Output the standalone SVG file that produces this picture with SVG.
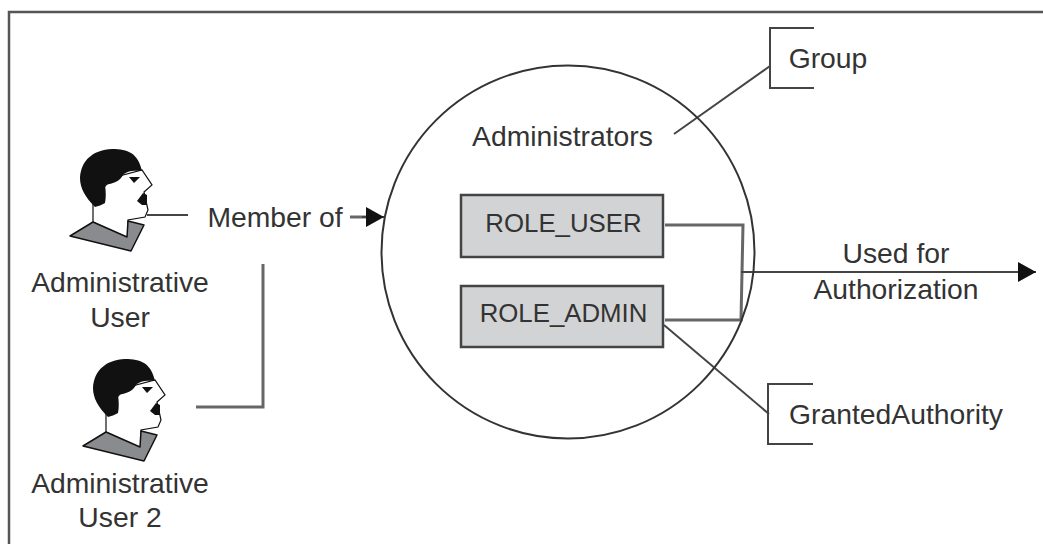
<svg xmlns="http://www.w3.org/2000/svg" width="1043" height="544" viewBox="0 0 1043 544">
<defs>
<style>
text{font-family:"Liberation Sans",Arial,sans-serif;font-size:28.300px;fill:#333;text-anchor:middle}
text.r{font-size:25.800px}
.ln{fill:none;stroke:#444;stroke-width:2}
.g{fill:none;stroke:#666;stroke-width:3}
.role{fill:#d2d3d5;stroke:#444;stroke-width:2.500}
.collar{fill:#8a8b8e;stroke:#111;stroke-width:1.500;stroke-linejoin:round}
.sk{fill:#fff;stroke:#111;stroke-width:1.200}
</style>
<marker id="ah" markerUnits="userSpaceOnUse" markerWidth="20" markerHeight="22" refX="18" refY="11" orient="auto"><path d="M0 1L18 11L0 21Z" fill="#111"/></marker>
<g id="person">
<path class="sk" d="M93 222V200L112 178L142 170L152 185L144 192L148 210L145 217L128 220V238Z"/>
<path class="collar" d="M70 236L93 222L127 237L128 221L144 225L131 251Z"/>
<path fill="#111" d="M95 207C85 197 80 188 80 178C81 160 93 150 112 149C128 149 138 153 142 171C134 170 126 171 123 175C120 181 115 183 105 185C106 192 106 198 105 203C102 205 98 206 95 207Z"/>
<path fill="#111" d="M129 177L140 177L134 183ZM137 201L143 193L147 195L147 205L142 205Z"/>
</g>
</defs>
<path id="frame" d="M9 560V12H1043" fill="none" stroke="#555" stroke-width="2.500"/>
<g id="connectors">
<path class="ln" d="M147 215H188"/>
<path class="g" d="M350 217H367"/>
<path class="ln" d="M362 217H384" marker-end="url(#ah)"/>
<path class="g" d="M263 264V407H196"/>
<path class="g" d="M665 225H743L741 320H665"/>
<path class="ln" d="M741 272H1036" marker-end="url(#ah)"/>
<path class="ln" d="M674 134L770 66"/>
<path class="ln" d="M664 325L769 414"/>
</g>
<g id="administrators"><circle cx="568" cy="252" r="186.500" fill="none" stroke="#333" stroke-width="2"/><text x="562.500" y="146">Administrators</text></g>
<g id="user1"><use href="#person"/><text x="120" y="292">Administrative</text><text x="120" y="327">User</text></g>
<g id="user2"><use href="#person" x="13" y="210"/><text x="120" y="493">Administrative</text><text x="120" y="527">User 2</text></g>
<g id="member"><text x="275" y="227">Member of</text></g>
<g id="role-user"><rect class="role" x="461" y="195" width="202" height="62"/><text class="r" x="563.500" y="232">ROLE_USER</text></g>
<g id="role-admin"><rect class="role" x="461" y="286" width="202" height="61"/><text class="r" x="563.500" y="322">ROLE_ADMIN</text></g>
<g id="group"><path class="ln" d="M814 28H770V88H814"/><text x="828" y="68">Group</text></g>
<g id="authority"><path class="ln" d="M813 384H768V444H813"/><text x="896" y="424">GrantedAuthority</text></g>
<g id="used"><text x="896" y="263">Used for</text><text x="896" y="299">Authorization</text></g>
</svg>
